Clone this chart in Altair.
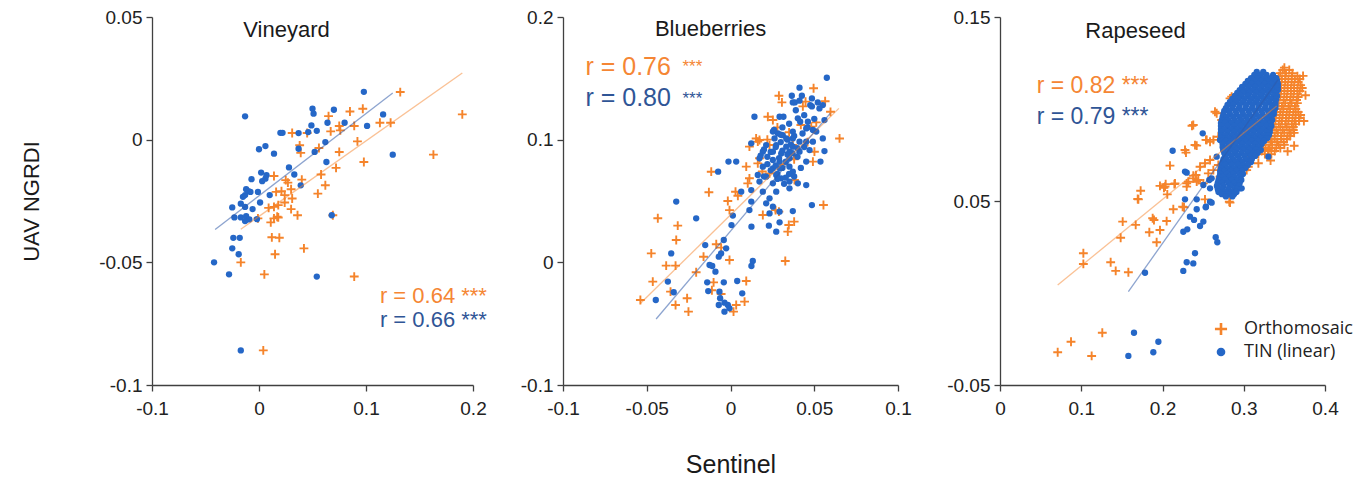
import altair as alt
import pandas as pd

ORANGE = "#F5842B"
BLUE = "#2567C7"
ORANGE_TXT = "#F58634"
BLUE_TXT = "#2F5596"
SERIES = ["Orthomosaic", "TIN (linear)"]
PLUS = "M-1.4,-0.3H-0.3V-1.4H0.3V-0.3H1.4V0.3H0.3V1.4H-0.3V0.3H-1.4Z"
FONT = "Liberation Sans"

# ---------------- Vineyard ----------------
vin_orth = [(0.132,0.0194),(0.190,0.0103),(0.085,0.0115),(0.097,0.0126),(0.065,0.0096),(0.113,0.0069),
            (0.123,0.0069),(0.075,0.0056),(0.089,0.0056),(0.076,0.0038),(0.031,0.0027),(0.045,0.0027),
            (0.067,0.0034),(0.092,-0.0007),(0.038,-0.0023),(0.039,-0.0054),(0.056,-0.0034),(0.075,-0.0050),
            (0.163,-0.0061),(0.098,-0.0091),(0.072,-0.0115),(0.014,-0.0148),(0.025,-0.0165),(0.027,-0.0175),
            (0.058,-0.0142),(0.040,-0.0163),(0.062,-0.0186),(0.030,-0.0202),(0.016,-0.0213),(0.021,-0.0210),
            (0.055,-0.0220),(0.024,-0.0226),(0.031,-0.0240),(0.024,-0.0256),(0.009,-0.0278),(0.014,-0.0274),
            (0.018,-0.0267),(0.030,-0.0283),(0.036,-0.0308),(0.017,-0.0314),(0.018,-0.0317),(0.014,-0.0321),
            (-0.001,-0.0321),(0.011,-0.0337),(0.012,-0.0398),(0.019,-0.0400),(0.042,-0.0443),(0.015,-0.0467),
            (-0.017,-0.0500),(0.005,-0.0549),(0.089,-0.0558),(0.004,-0.0859),(0.069,-0.0308)]
vin_tin = [(0.098,0.0195),(-0.013,0.0095),(0.050,0.0126),(0.051,0.0106),(0.070,0.0122),(0.116,0.0103),
           (0.049,0.0058),(0.054,0.0036),(0.064,0.0069),(0.080,0.0069),(0.101,0.0056),(0.020,0.0028),
           (0.022,0.0028),(0.037,0.0027),(0.046,0.0031),(0.006,-0.0026),(0.000,-0.0039),(0.014,-0.0057),
           (0.062,-0.0010),(0.037,-0.0037),(0.052,-0.0050),(0.125,-0.0061),(0.063,-0.0091),(0.028,-0.0113),
           (0.002,-0.0134),(0.007,-0.0145),(0.003,-0.0169),(0.006,-0.0159),(0.033,-0.0142),(-0.007,-0.0161),
           (0.039,-0.0186),(-0.012,-0.0202),(-0.010,-0.0210),(-0.008,-0.0213),(-0.001,-0.0213),(-0.015,-0.0233),
           (-0.013,-0.0226),(0.010,-0.0226),(0.001,-0.0256),(-0.017,-0.0261),(-0.013,-0.0274),(-0.025,-0.0276),
           (-0.006,-0.0283),(0.068,-0.0308),(-0.023,-0.0317),(-0.017,-0.0317),(-0.012,-0.0312),(-0.009,-0.0325),
           (-0.013,-0.0332),(-0.002,-0.0324),(-0.024,-0.0400),(-0.018,-0.0400),(-0.025,-0.0443),(-0.019,-0.0467),
           (-0.042,-0.0500),(-0.028,-0.0549),(0.054,-0.0558),(-0.017,-0.0859)]
vin_fit_orth = [(-0.017,-0.0365),(0.190,0.0272)]
vin_fit_tin = [(-0.041,-0.0366),(0.125,0.0190)]

# ---------------- Blueberries ----------------
blu_orth = [(0.0496,0.1419),(0.0289,0.1358),(0.0307,0.1304),(0.0565,0.1313),(0.0597,0.1227),(0.0432,0.1271),
            (0.0448,0.1310),(0.0223,0.1187),(0.0253,0.1160),(0.0512,0.1141),(0.0482,0.1106),(0.0651,0.1010),
            (0.0153,0.1010),(0.0173,0.0997),(0.0163,0.0984),(0.0113,0.0943),(0.0233,0.0956),(0.0372,0.0956),
            (0.0501,0.0902),(0.0173,0.0848),(0.0163,0.0807),(0.0492,0.0821),(-0.0115,0.0739),(0.0094,0.0780),
            (0.0233,0.0725),(0.0382,0.0671),(0.0113,0.0685),(0.0103,0.0644),(0.0030,0.0576),(0.0044,0.0543),
            (-0.0129,0.0571),(-0.0016,0.0500),(0.0269,0.0426),(0.0289,0.0413),(0.0555,0.0467),(-0.0006,0.0426),
            (0.0193,0.0386),(-0.0434,0.0359),(-0.0315,0.0299),(-0.0324,0.0182),(0.0348,0.0304),(0.0380,0.0332),
            (0.0342,0.0250),(-0.0473,0.0073),(-0.0085,0.0147),(-0.0056,0.0120),(-0.0161,0.0046),(-0.0384,-0.0027),
            (-0.0328,-0.0027),(-0.0006,0.0019),(0.0327,0.0011),(-0.0205,-0.0081),(-0.0464,-0.0157),(-0.0101,-0.0163),
            (0.0094,-0.0152),(-0.0358,-0.0239),(-0.0111,-0.0228),(-0.0056,-0.0258),(-0.0538,-0.0307),(-0.0259,-0.0293),
            (0.0084,-0.0320),(0.0034,-0.0348),(0.0018,-0.0402),(-0.0328,-0.0348),(-0.0251,-0.0402),
            (0.0280,0.1100),(0.0350,0.1060),(0.0220,0.1000),(0.0420,0.1120),(0.0380,0.0840),(0.0300,0.0800),
            (0.0460,0.0980),(0.0190,0.0740)]
blu_tin = [(0.0575,0.1505),(0.0412,0.1424),(0.0366,0.1358),(0.0426,0.1358),(0.0372,0.1304),(0.0384,0.1304),
           (0.0486,0.1336),(0.0521,0.1304),(0.0551,0.1282),(0.0531,0.1255),(0.0486,0.1271),(0.0476,0.1282),
           (0.0412,0.1318),(0.0143,0.1187),(0.0293,0.1187),(0.0316,0.1187),(0.0402,0.1174),(0.0416,0.1146),
           (0.0462,0.1146),(0.0452,0.1092),(0.0561,0.1160),(0.0492,0.1079),(0.0512,0.1066),(0.0253,0.1066),
           (0.0283,0.1051),(0.0312,0.1037),(0.0263,0.1010),(0.0333,0.1010),(0.0372,0.1066),(0.0372,0.1010),
           (0.0412,0.0984),(0.0452,0.0984),(0.0492,0.0984),(0.0124,0.0970),(0.0551,0.1010),(0.0213,0.0956),
           (0.0273,0.0956),(0.0333,0.0943),(0.0372,0.0943),(0.0193,0.0902),(0.0253,0.0902),(0.0303,0.0888),
           (0.0352,0.0902),(0.0412,0.0902),(0.0472,0.0915),(0.0561,0.0907),(0.0173,0.0848),(0.0253,0.0834),
           (0.0293,0.0821),(0.0352,0.0848),(-0.0012,0.0821),(0.0034,0.0821),(0.0537,0.0821),(0.0452,0.0821),
           (0.0193,0.0780),(0.0253,0.0766),(0.0293,0.0766),(0.0352,0.0780),(0.0372,0.0739),(-0.0074,0.0739),
           (0.0163,0.0712),(0.0213,0.0698),(0.0273,0.0712),(0.0303,0.0685),(0.0173,0.0658),(0.0253,0.0644),
           (0.0352,0.0658),(0.0402,0.0644),(0.0452,0.0630),(0.0064,0.0576),(0.0124,0.0589),(0.0193,0.0576),
           (0.0273,0.0576),(0.0352,0.0603),(0.0233,0.0522),(0.0213,0.0481),(0.0253,0.0454),(0.0486,0.0467),
           (-0.0324,0.0495),(0.0124,0.0495),(0.0113,0.0426),(0.0233,0.0399),(0.0293,0.0413),(0.0372,0.0418),
           (-0.0205,0.0359),(0.0014,0.0381),(0.0006,0.0304),(0.0125,0.0291),(0.0229,0.0299),(0.0293,0.0326),
           (0.0273,0.0250),(-0.0040,0.0182),(-0.0151,0.0141),(-0.0354,0.0073),(-0.0026,0.0114),(-0.0056,0.0073),
           (-0.0070,0.0046),(-0.0125,-0.0022),(-0.0109,-0.0030),(0.0133,0.0011),(0.0125,-0.0030),(-0.0090,-0.0076),
           (-0.0374,-0.0157),(-0.0139,-0.0163),(-0.0040,-0.0163),(0.0040,-0.0152),(-0.0339,-0.0244),(-0.0133,-0.0234),
           (-0.0066,-0.0239),(0.0070,-0.0253),(-0.0446,-0.0307),(-0.0062,-0.0293),(-0.0036,-0.0329),(-0.0016,-0.0348),
           (-0.0070,-0.0348),(-0.0036,-0.0402),(-0.0006,-0.0375),(0.0300,0.0980),(0.0340,0.0880),(0.0220,0.0860),
           (0.0280,0.0720),(0.0320,0.0640),(0.0400,0.0860),(0.0440,0.0940),(0.0200,0.0700),
           (0.0260,0.1080),(0.0300,0.1040),(0.0340,0.1000),(0.0380,0.1030),(0.0270,0.0940),(0.0310,0.0910),
           (0.0360,0.0960),(0.0240,0.0900),(0.0290,0.0850),(0.0330,0.0820),(0.0370,0.0890),(0.0400,0.0930),
           (0.0220,0.0800),(0.0270,0.0790),(0.0310,0.0770),(0.0350,0.0720),(0.0240,0.0750),(0.0280,0.0680),
           (0.0330,0.0690),(0.0380,0.0700),(0.0430,0.1050),(0.0460,0.1100),(0.0500,0.1170),(0.0440,0.1200),
           (0.0390,0.1240),(0.0350,0.1130),(0.0310,0.1100),(0.0200,0.0920),(0.0180,0.0870),(0.0420,0.0770)]
blu_fit_orth = [(-0.0537,-0.0334),(0.0647,0.1255)]
blu_fit_tin = [(-0.0444,-0.0462),(0.0595,0.1214)]

# ---------------- Rapeseed ----------------
rape_orth = [(0.071,-0.0322),(0.0874,-0.0265),(0.1128,-0.0342),(0.1259,-0.0216),
             (0.1026,0.0216),(0.1026,0.0158),(0.1362,0.0167),(0.1424,0.0120),(0.1580,0.0113),(0.1485,0.0300),
             (0.1510,0.0388),(0.1670,0.0370),(0.1838,0.0330),(0.1928,0.0276),(0.1969,0.0342),(0.1879,0.0406),
             (0.1895,0.0397),(0.2051,0.0391),(0.2133,0.0455),(0.1695,0.0511),(0.1731,0.0556),(0.1969,0.0582),
             (0.2018,0.0572),(0.2039,0.0591),(0.2146,0.0592),(0.2248,0.0469),(0.2092,0.0692),(0.2289,0.0763),
             (0.2421,0.0801),(0.2363,0.0909),(0.2318,0.0605),(0.2379,0.0638),(0.2441,0.0614),(0.2462,0.0686),
             (0.2523,0.0705),(0.2585,0.0723),(0.2535,0.0832),(0.2585,0.0822),(0.2667,0.0977),(0.2831,0.1058),
             (0.2822,0.0496),(0.2503,0.0596),(0.2626,0.0668),(0.2564,0.0650),(0.2687,0.0696),(0.2708,0.0632),
             (0.2379,0.0913),(0.2277,0.0777),(0.2400,0.0804),(0.2544,0.0832),(0.2626,0.0832),(0.2687,0.0849),
             (0.2646,0.0985),(0.2728,0.0940),(0.2851,0.1067),(0.2298,0.0596),(0.2379,0.0623),(0.3056,0.0686),
             (0.3036,0.0668),(0.3303,0.0777),(0.3344,0.0822),(0.2421,0.0605),(0.2412,0.0641),(0.2154,0.0596),
             (0.2031,0.0578),(0.2059,0.0536),(0.1703,0.0509),(0.2298,0.0578),(0.2265,0.0466),(0.2523,0.0509),
             (0.2831,0.0491),(0.3500,0.1225),(0.3730,0.1180),(0.3760,0.1075),(0.3740,0.0935),(0.3620,0.0800),
             (0.3540,0.0770),(0.3330,0.0720),(0.3180,0.0705),(0.3050,0.0755)]
rape_orth_rows = [(0.1212,[0.348,0.356]),(0.1195,[0.345,0.352,0.360]),
                  (0.1179,[0.343,0.351,0.359,0.366]),(0.1163,[0.347,0.355,0.363,0.369]),
                  (0.1147,[0.343,0.351,0.359,0.367]),(0.1130,[0.346,0.354,0.362,0.370]),
                  (0.1114,[0.342,0.350,0.358,0.366,0.372]),(0.1098,[0.346,0.354,0.362,0.369]),
                  (0.1082,[0.342,0.350,0.358,0.366]),(0.1065,[0.345,0.353,0.361,0.367]),
                  (0.1049,[0.341,0.349,0.357,0.365]),(0.1032,[0.343,0.351,0.359,0.366]),
                  (0.1016,[0.339,0.347,0.355,0.363]),(0.1000,[0.341,0.349,0.357,0.364]),
                  (0.0984,[0.337,0.345,0.353,0.361,0.367]),(0.0967,[0.340,0.348,0.356,0.364,0.370]),
                  (0.0951,[0.336,0.344,0.352,0.360,0.368]),(0.0935,[0.339,0.347,0.355,0.363,0.368]),
                  (0.0918,[0.335,0.343,0.351,0.359,0.364]),(0.0902,[0.337,0.345,0.353,0.361]),
                  (0.0886,[0.332,0.340,0.348,0.356,0.361]),(0.0870,[0.334,0.342,0.350,0.358,0.362]),
                  (0.0853,[0.330,0.338,0.346,0.354,0.357]),(0.0837,[0.330,0.338,0.346,0.353]),
                  (0.0821,[0.325,0.333,0.341,0.349]),(0.0805,[0.327,0.335,0.343,0.350]),
                  (0.0788,[0.324,0.332,0.340,0.345]),(0.0772,[0.322,0.330,0.338]),
                  (0.0755,[0.318,0.326,0.334])]
rape_tin = [(0.1649,-0.0216),(0.1580,-0.0342),(0.1887,-0.0322),(0.1949,-0.0265),
            (0.2125,0.0773),(0.2495,0.0868),(0.2298,0.0654),(0.2277,0.0509),(0.2421,0.0509),(0.2421,0.0455),
            (0.2338,0.0415),(0.2388,0.0397),(0.2503,0.0388),(0.2462,0.0364),(0.2256,0.0333),(0.2305,0.0346),
            (0.2535,0.0469),(0.2585,0.0496),(0.2576,0.0614),(0.2655,0.0303),(0.2675,0.0276),(0.2400,0.0216),
            (0.2298,0.0167),(0.2379,0.0161),(0.2256,0.0120),(0.1785,0.0110),(0.2585,0.0569),(0.2687,0.0560),
            (0.2769,0.0551),(0.2892,0.0560),(0.2974,0.0569),(0.2708,0.0832),(0.2748,0.0777),(0.2667,0.0741),
            (0.2748,0.0958),(0.2831,0.1031),(0.3056,0.1085),(0.2913,0.1067),(0.2277,0.0660),(0.2503,0.0587),
            (0.2605,0.0623),(0.2954,0.0569),(0.3303,0.0741),(0.2532,0.0466),(0.2605,0.0491)]
rape_tin_rows = [(0.1201,[0.316,0.324]),(0.1185,[0.313,0.320,0.328,0.336]),
                 (0.1168,[0.309,0.317,0.325,0.333,0.340]),(0.1152,[0.305,0.313,0.321,0.329,0.337,0.341]),
                 (0.1136,[0.302,0.310,0.318,0.326,0.334,0.342]),(0.1120,[0.298,0.306,0.314,0.322,0.330,0.338,0.342]),
                 (0.1103,[0.295,0.303,0.311,0.319,0.327,0.335,0.342]),(0.1087,[0.292,0.299,0.307,0.315,0.323,0.331,0.339]),
                 (0.1071,[0.289,0.297,0.305,0.313,0.321,0.329,0.337,0.341]),
                 (0.1055,[0.286,0.293,0.301,0.309,0.317,0.325,0.333,0.340]),
                 (0.1038,[0.283,0.291,0.299,0.307,0.315,0.323,0.331,0.339]),
                 (0.1022,[0.280,0.287,0.295,0.303,0.311,0.319,0.327,0.335,0.339]),
                 (0.1005,[0.278,0.286,0.294,0.302,0.310,0.318,0.326,0.334,0.339]),
                 (0.0989,[0.276,0.282,0.290,0.298,0.306,0.314,0.322,0.330,0.337]),
                 (0.0973,[0.275,0.283,0.291,0.299,0.307,0.315,0.323,0.331,0.337]),
                 (0.0957,[0.274,0.279,0.287,0.295,0.303,0.311,0.319,0.327,0.334]),
                 (0.0940,[0.273,0.281,0.289,0.297,0.305,0.313,0.321,0.329,0.335]),
                 (0.0924,[0.272,0.277,0.285,0.293,0.301,0.309,0.317,0.325,0.333]),
                 (0.0908,[0.272,0.280,0.288,0.296,0.304,0.312,0.320,0.328,0.334]),
                 (0.0891,[0.272,0.276,0.284,0.292,0.300,0.308,0.316,0.324,0.332]),
                 (0.0875,[0.272,0.280,0.288,0.296,0.304,0.312,0.320,0.328,0.332]),
                 (0.0858,[0.272,0.277,0.285,0.293,0.301,0.309,0.317,0.325,0.331]),
                 (0.0842,[0.273,0.281,0.289,0.297,0.305,0.313,0.321,0.329]),
                 (0.0826,[0.273,0.278,0.286,0.294,0.302,0.310,0.318,0.325]),
                 (0.0810,[0.274,0.282,0.290,0.298,0.306,0.314,0.322]),
                 (0.0793,[0.274,0.279,0.287,0.295,0.303,0.311,0.318]),
                 (0.0777,[0.275,0.283,0.291,0.299,0.307,0.315,0.321]),
                 (0.0761,[0.276,0.281,0.289,0.297,0.305,0.312,0.317]),
                 (0.0745,[0.277,0.285,0.293,0.301,0.309,0.314]),
                 (0.0728,[0.275,0.279,0.287,0.295,0.303,0.310]),
                 (0.0712,[0.274,0.282,0.290,0.298,0.306,0.309]),
                 (0.0696,[0.273,0.277,0.285,0.293,0.300,0.305]),
                 (0.0679,[0.272,0.280,0.288,0.296,0.302]),(0.0663,[0.271,0.276,0.284,0.291,0.298]),
                 (0.0647,[0.271,0.279,0.287,0.295,0.299]),(0.0631,[0.270,0.274,0.282,0.289,0.296]),
                 (0.0614,[0.269,0.277,0.285,0.293,0.297]),(0.0598,[0.268,0.273,0.281,0.288,0.295]),
                 (0.0582,[0.267,0.275,0.283,0.291,0.294]),(0.0566,[0.268,0.273,0.281,0.289,0.292]),
                 (0.0549,[0.269,0.277,0.285,0.291]),(0.0537,[0.273,0.281,0.288]),(0.0525,[0.278,0.286])]
rape_fit_orth = [(0.071,0.0043),(0.3405,0.1016)]
rape_fit_tin = [(0.158,0.0007),(0.3425,0.1161)]


def rows_to_pairs(rows):
    return [(x, y) for y, xs in rows for x in xs]


def panel(name, name_xy, orth, tin, fit_o, fit_t, xdom, xticks, ydom, yticks, width,
          r_o, r_t, r_o_xy, r_t_xy, r_size, stars_xy=None, ytitle=None, xtitle=None,
          yextent=60, legend=None):
    pts = pd.DataFrame([{"x": x, "y": y, "series": SERIES[0]} for x, y in orth] +
                       [{"x": x, "y": y, "series": SERIES[1]} for x, y in tin])
    xaxis = dict(values=xticks, labelExpr="'' + datum.value", grid=False, labelFlush=False)
    yaxis = dict(values=yticks, labelExpr="'' + datum.value", grid=False, labelFlush=False,
                 minExtent=yextent, maxExtent=yextent)
    if xtitle:
        xaxis.update(title=xtitle, titleFontSize=25, titlePadding=34)
    else:
        xaxis.update(title=None)
    if ytitle:
        yaxis.update(title=ytitle, titleFontSize=22, titlePadding=44)
    else:
        yaxis.update(title=None)
    xenc = alt.X("x:Q", scale=alt.Scale(domain=xdom, nice=False, zero=False), axis=alt.Axis(**xaxis))
    yenc = alt.Y("y:Q", scale=alt.Scale(domain=ydom, nice=False, zero=False), axis=alt.Axis(**yaxis))

    if legend is None:
        leg = None
    else:
        leg = alt.Legend(orient="none", legendX=legend[0], legendY=legend[1], title=None,
                         labelFont="Open Sans", labelFontSize=18, labelColor="#222222",
                         symbolSize=75, symbolStrokeWidth=0, rowPadding=5, labelOffset=14, padding=0)
    points = alt.Chart(pts).mark_point(filled=True, opacity=1, size=40, strokeWidth=0).encode(
        x=xenc, y=yenc,
        color=alt.Color("series:N", scale=alt.Scale(domain=SERIES, range=[ORANGE, BLUE]), legend=leg),
        shape=alt.Shape("series:N", scale=alt.Scale(domain=SERIES, range=[PLUS, "circle"]), legend=leg),
    )
    lo = alt.Chart(pd.DataFrame(fit_o, columns=["x", "y"])).mark_line(
        color=ORANGE, strokeWidth=1.3, opacity=0.5).encode(x=xenc, y=yenc)
    lt = alt.Chart(pd.DataFrame(fit_t, columns=["x", "y"])).mark_line(
        color="#2F5AA8", strokeWidth=1.3, opacity=0.55).encode(x=xenc, y=yenc)
    title = alt.Chart(pd.DataFrame({"x": [name_xy[0]], "y": [name_xy[1]], "t": [name]})).mark_text(
        font=FONT, fontSize=22, color="#1a1a1a", align="center", baseline="middle").encode(
        x=xenc, y=yenc, text="t:N")
    to = alt.Chart(pd.DataFrame({"x": [r_o_xy[0]], "y": [r_o_xy[1]], "t": [r_o]})).mark_text(
        font=FONT, fontSize=r_size, color=ORANGE_TXT, align="left", baseline="middle").encode(
        x=xenc, y=yenc, text="t:N")
    tt = alt.Chart(pd.DataFrame({"x": [r_t_xy[0]], "y": [r_t_xy[1]], "t": [r_t]})).mark_text(
        font=FONT, fontSize=r_size, color=BLUE_TXT, align="left", baseline="middle").encode(
        x=xenc, y=yenc, text="t:N")
    layers = [points, lo, lt, title, to, tt]
    if stars_xy is not None:
        so = alt.Chart(pd.DataFrame({"x": [stars_xy[0][0]], "y": [stars_xy[0][1]], "t": ["***"]})).mark_text(
            font=FONT, fontSize=17, color=ORANGE_TXT, align="left", baseline="middle").encode(
            x=xenc, y=yenc, text="t:N")
        st = alt.Chart(pd.DataFrame({"x": [stars_xy[1][0]], "y": [stars_xy[1][1]], "t": ["***"]})).mark_text(
            font=FONT, fontSize=17, color=BLUE_TXT, align="left", baseline="middle").encode(
            x=xenc, y=yenc, text="t:N")
        layers += [so, st]
    return alt.layer(*layers).properties(width=width, height=368)


p1 = panel("Vineyard", (0.0257, 0.0447), vin_orth, vin_tin, vin_fit_orth, vin_fit_tin,
           [-0.1, 0.2], [-0.1, 0, 0.1, 0.2], [-0.1, 0.05], [-0.1, -0.05, 0, 0.05], 321,
           "r = 0.64 ***", "r = 0.66 ***", (0.113, -0.0636), (0.113, -0.0734), 22,
           ytitle="UAV NGRDI", yextent=65)
p2 = panel("Blueberries", (-0.0119, 0.1899), blu_orth, blu_tin, blu_fit_orth, blu_fit_tin,
           [-0.1, 0.1], [-0.1, -0.05, 0, 0.05, 0.1], [-0.1, 0.2], [-0.1, 0, 0.1, 0.2], 335,
           "r = 0.76", "r = 0.80", (-0.0866, 0.1595), (-0.0866, 0.1337), 25,
           stars_xy=((-0.0287, 0.1589), (-0.0287, 0.1331)), xtitle="Sentinel", yextent=66)
p3 = panel("Rapeseed", (0.1668, 0.1424), rape_orth + rows_to_pairs(rape_orth_rows),
           rape_tin + rows_to_pairs(rape_tin_rows), rape_fit_orth, rape_fit_tin,
           [0, 0.4], [0, 0.1, 0.2, 0.3, 0.4], [-0.05, 0.15], [-0.05, 0.05, 0.15], 325,
           "r = 0.82 ***", "r = 0.79 ***", (0.0451, 0.1125), (0.0451, 0.0958), 23,
           yextent=78, legend=(212, 303))

chart = alt.hconcat(p1, p2, p3, spacing=10).resolve_scale(
    color="independent", shape="independent"
).properties(
    padding={"left": 12, "top": 0, "right": 5, "bottom": 5}
).configure_view(stroke=None).configure_axis(
    domainColor="#404040", domainWidth=1.3, tickColor="#404040", tickWidth=1.3, tickSize=6,
    labelFont=FONT, labelFontSize=19, labelColor="#222222",
    titleFont=FONT, titleFontWeight="normal", titleColor="#1a1a1a"
).configure_axisX(labelPadding=8).configure_axisY(labelPadding=4)

chart.save("out.html", embed_options={"renderer": "svg", "actions": False})
